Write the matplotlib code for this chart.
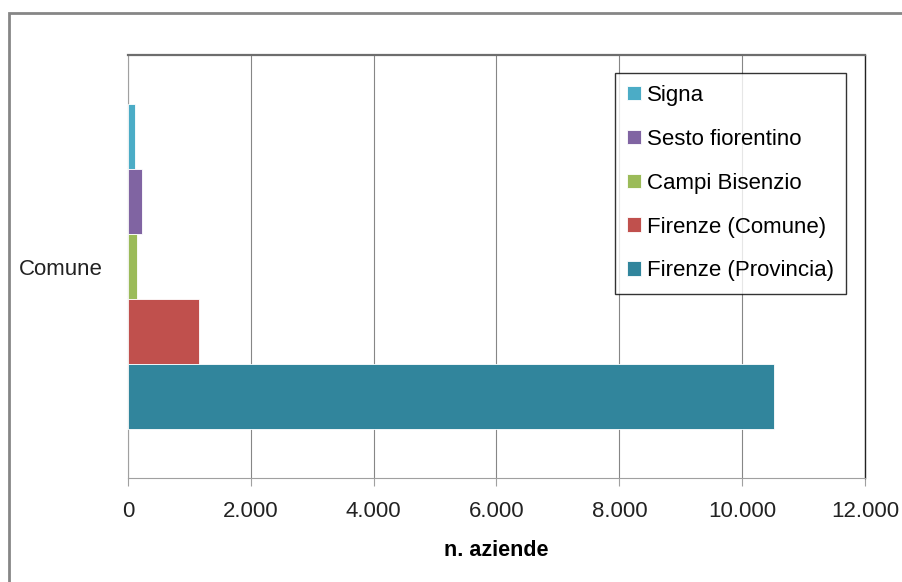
import matplotlib.pyplot as plt
from matplotlib.patches import Rectangle
from matplotlib.ticker import FuncFormatter, MultipleLocator

plt.rcParams['font.family'] = ['Liberation Sans', 'DejaVu Sans']

# numero di aziende per territorio (categoria unica "Comune")
categoria = "Comune"
serie = ["Signa", "Sesto fiorentino", "Campi Bisenzio",
         "Firenze (Comune)", "Firenze (Provincia)"]
aziende = [107, 228, 146, 1160, 10525]
colori = ["#4BACC6", "#8064A2", "#9BBB59", "#C0504D", "#31859C"]

W, H = 903, 582
fig = plt.figure(figsize=(W / 100, H / 100), dpi=100)

# cornice esterna in stile Excel
fig.patches.append(Rectangle((8.5 / W, -0.05), 1.1, 1 - 13 / H + 0.05,
                             transform=fig.transFigure, fill=False,
                             edgecolor="#868686", linewidth=2, clip_on=False))

ax = fig.add_axes([128 / W, (H - 478) / H, (865 - 128) / W, (478 - 55) / H])

n = len(serie)
for i, (nome, val, col) in enumerate(zip(serie, aziende, colori)):
    ax.barh(n - 1 - i, val, height=1.0, color=col, label=nome,
            edgecolor="white", linewidth=0.6, zorder=3)

ax.set_xlim(0, 12000)
ax.set_ylim(-1.25, n - 0.5 + 0.76)
ax.xaxis.set_major_locator(MultipleLocator(2000))
ax.xaxis.set_major_formatter(FuncFormatter(lambda x, p: f"{int(x):,}".replace(",", ".")))
ax.set_yticks([(n - 1) / 2])
ax.set_yticklabels([categoria])

ax.grid(axis="x", color="#868686", linewidth=0.8, zorder=0)
ax.tick_params(axis="x", length=6, width=0.8, color="#a0a0a0", pad=10.5,
               labelsize=16, labelcolor="#222222")
ax.tick_params(axis="y", length=0, pad=18, labelsize=16, labelcolor="#222222")

ax.spines["top"].set_color("#6d6d6d")
ax.spines["top"].set_linewidth(1.6)
ax.spines["right"].set_color("#222222")
ax.spines["right"].set_linewidth(1.0)
ax.spines["left"].set_color("#a0a0a0")
ax.spines["bottom"].set_color("#a0a0a0")

ax.set_xlabel("n. aziende", fontsize=15.5, fontweight="bold", labelpad=13)

leg = ax.legend(loc="upper right", bbox_to_anchor=(846 / W, 1 - 72.7 / H),
                bbox_transform=fig.transFigure, borderaxespad=0,
                fontsize=16, handlelength=0.63, handleheight=0.63,
                handletextpad=0.27, labelspacing=1.03, borderpad=0.55,
                fancybox=False, frameon=True)
leg.get_frame().set_edgecolor("black")
leg.get_frame().set_linewidth(1.0)

fig.savefig("out.png", dpi=100)
